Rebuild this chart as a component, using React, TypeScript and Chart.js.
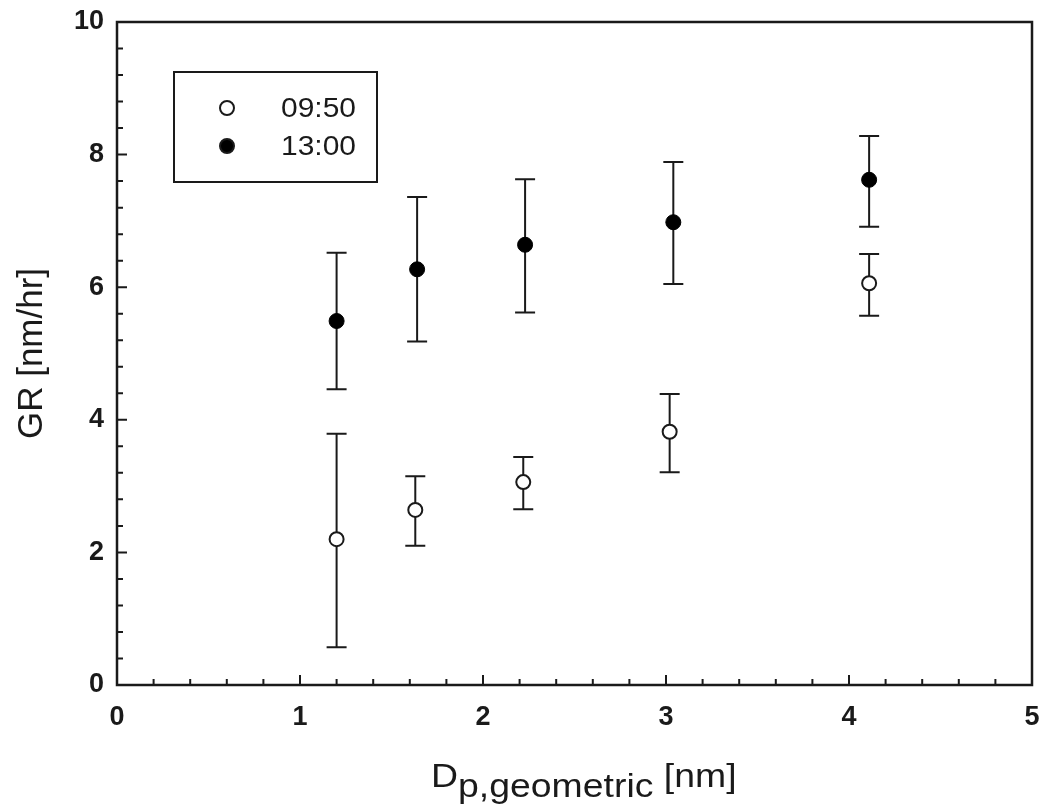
import React, { useEffect, useRef } from "react";
import { Chart, registerables } from "chart.js";

Chart.register(...registerables);

const FONT = "Arial, 'Liberation Sans', Helvetica, sans-serif";

const seriesNames = ["09:50", "13:00"];
const x0950 = [1.2, 1.63, 2.22, 3.02, 4.11];
const y0950 = [2.2, 2.64, 3.06, 3.82, 6.06];
const lo0950 = [0.57, 2.1, 2.65, 3.21, 5.57];
const hi0950 = [3.79, 3.15, 3.44, 4.39, 6.5];
const x1300 = [1.2, 1.64, 2.23, 3.04, 4.11];
const y1300 = [5.49, 6.27, 6.64, 6.98, 7.62];
const lo1300 = [4.46, 5.18, 5.62, 6.05, 6.91];
const hi1300 = [6.52, 7.36, 7.63, 7.89, 8.28];
const xTickLabels = ["0", "1", "2", "3", "4", "5"];
const yTickLabels = ["0", "2", "4", "6", "8", "10"];
const yTitle = "GR [nm/hr]";
const xTitleMain = "D";
const xTitleSub = "p,geometric";
const xTitleUnit = " [nm]";

const INK = "#1a1a1a";
const W = 1033;
const H = 799;

function makePoints(xs: number[], ys: number[], lo: number[], hi: number[]) {
  return xs.map((x, i) => ({ x, y: ys[i], lo: lo[i], hi: hi[i] }));
}

const errorBarPlugin = {
  id: "errorBars",
  beforeDatasetsDraw(chart: any) {
    const { ctx, scales } = chart;
    const xs = scales.x;
    const ys = scales.y;
    ctx.save();
    ctx.strokeStyle = INK;
    ctx.lineWidth = 2;
    chart.data.datasets.forEach((ds: any) => {
      ds.data.forEach((p: any) => {
        const px = xs.getPixelForValue(p.x);
        const pl = ys.getPixelForValue(p.lo);
        const ph = ys.getPixelForValue(p.hi);
        ctx.beginPath();
        ctx.moveTo(px, pl);
        ctx.lineTo(px, ph);
        ctx.moveTo(px - 10, pl);
        ctx.lineTo(px + 10, pl);
        ctx.moveTo(px - 10, ph);
        ctx.lineTo(px + 10, ph);
        ctx.stroke();
      });
    });
    ctx.restore();
  },
};

function stretchedText(ctx: any, text: string, x: number, y: number, sx: number) {
  ctx.save();
  ctx.translate(x, y);
  ctx.scale(sx, 1);
  ctx.fillText(text, 0, 0);
  ctx.restore();
  return ctx.measureText(text).width * sx;
}

const framePlugin = {
  id: "frameTicks",
  afterDraw(chart: any) {
    const { ctx, chartArea, scales } = chart;
    const { left, right, top, bottom } = chartArea;
    const xs = scales.x;
    const ys = scales.y;
    ctx.save();
    ctx.strokeStyle = INK;
    ctx.lineWidth = 2.5;
    ctx.strokeRect(left, top, right - left, bottom - top);

    ctx.lineWidth = 2;
    ctx.beginPath();
    for (let i = 0; i <= 25; i++) {
      const px = xs.getPixelForValue(i * 0.2);
      const len = i % 5 === 0 ? 10 : 6;
      ctx.moveTo(px, bottom);
      ctx.lineTo(px, bottom - len);
    }
    for (let i = 0; i <= 25; i++) {
      const py = ys.getPixelForValue(i * 0.4);
      const len = i % 5 === 0 ? 10 : 6;
      ctx.moveTo(left, py);
      ctx.lineTo(left + len, py);
    }
    ctx.stroke();

    // legend box
    const bx = left + 57;
    const by = top + 50;
    const bw = 203;
    const bh = 110;
    ctx.lineWidth = 2;
    ctx.strokeRect(bx, by, bw, bh);
    const rows = [by + 36, by + 74];
    chart.data.datasets.forEach((ds: any, i: number) => {
      const cy = rows[i];
      ctx.beginPath();
      ctx.arc(bx + 53, cy, 7, 0, Math.PI * 2);
      ctx.fillStyle = ds.pointBackgroundColor;
      ctx.fill();
      ctx.lineWidth = 2;
      ctx.strokeStyle = INK;
      ctx.stroke();
      ctx.fillStyle = INK;
      ctx.font = `28px ${FONT}`;
      ctx.textAlign = "left";
      ctx.textBaseline = "middle";
      stretchedText(ctx, ds.label, bx + 107, cy + 1, 1.07);
    });

    // x title with subscript
    const font = `34px ${FONT}`;
    const sx = 1.1;
    ctx.font = font;
    ctx.textAlign = "left";
    ctx.textBaseline = "alphabetic";
    ctx.fillStyle = INK;
    let tx = left + 314;
    const base = bottom + 102;
    tx += stretchedText(ctx, xTitleMain, tx, base, sx);
    tx += stretchedText(ctx, xTitleSub, tx, base + 10, sx);
    stretchedText(ctx, xTitleUnit, tx, base, sx);
    ctx.restore();
  },
};

export default function App() {
  const ref = useRef<HTMLCanvasElement | null>(null);
  useEffect(() => {
    if (!ref.current) return;
    const chart = new Chart(ref.current, {
      type: "scatter",
      data: {
        datasets: [
          {
            label: seriesNames[0],
            data: makePoints(x0950, y0950, lo0950, hi0950),
            pointRadius: 7,
            pointBorderWidth: 2,
            pointBackgroundColor: "#ffffff",
            pointBorderColor: INK,
            showLine: false,
          },
          {
            label: seriesNames[1],
            data: makePoints(x1300, y1300, lo1300, hi1300),
            pointRadius: 7.5,
            pointBorderWidth: 1,
            pointBackgroundColor: "#000000",
            pointBorderColor: "#000000",
            showLine: false,
          },
        ] as any,
      },
      options: {
        animation: false,
        responsive: false,
        maintainAspectRatio: false,
        layout: { padding: { top: 14, right: 3, left: 0, bottom: 0 } },
        plugins: {
          legend: { display: false },
          tooltip: { enabled: false },
        },
        scales: {
          x: {
            type: "linear",
            min: 0,
            max: 5,
            grid: { display: false, drawTicks: false },
            border: { display: false },
            title: { display: false },
            ticks: {
              stepSize: 1,
              padding: 16,
              color: INK,
              font: { family: FONT, size: 27, weight: "bold" },
              callback: (v: any) => xTickLabels[Math.round(Number(v))] ?? "",
            },
            afterFit(scale: any) {
              scale.height = H - 677;
              scale.paddingLeft = 0;
              scale.paddingRight = 0;
            },
          },
          y: {
            type: "linear",
            min: 0,
            max: 10,
            grid: { display: false, drawTicks: false },
            border: { display: false },
            title: {
              display: true,
              text: yTitle,
              color: INK,
              font: { family: FONT, size: 35, weight: "normal" },
              padding: { top: 3, bottom: 4 },
            },
            ticks: {
              stepSize: 2,
              padding: 13,
              color: INK,
              font: { family: FONT, size: 27, weight: "bold" },
              callback: (v: any) => yTickLabels[Math.round(Number(v) / 2)] ?? "",
            },
            afterFit(scale: any) {
              scale.width = 109;
              scale.paddingTop = 0;
              scale.paddingBottom = 0;
            },
          },
        },
      } as any,
      plugins: [errorBarPlugin, framePlugin],
    });
    return () => chart.destroy();
  }, []);
  return (
    <div style={{ position: "absolute", left: 8, top: 8, width: W, height: H }}>
      <canvas ref={ref} width={W} height={H} style={{ display: "block" }} />
    </div>
  );
}
